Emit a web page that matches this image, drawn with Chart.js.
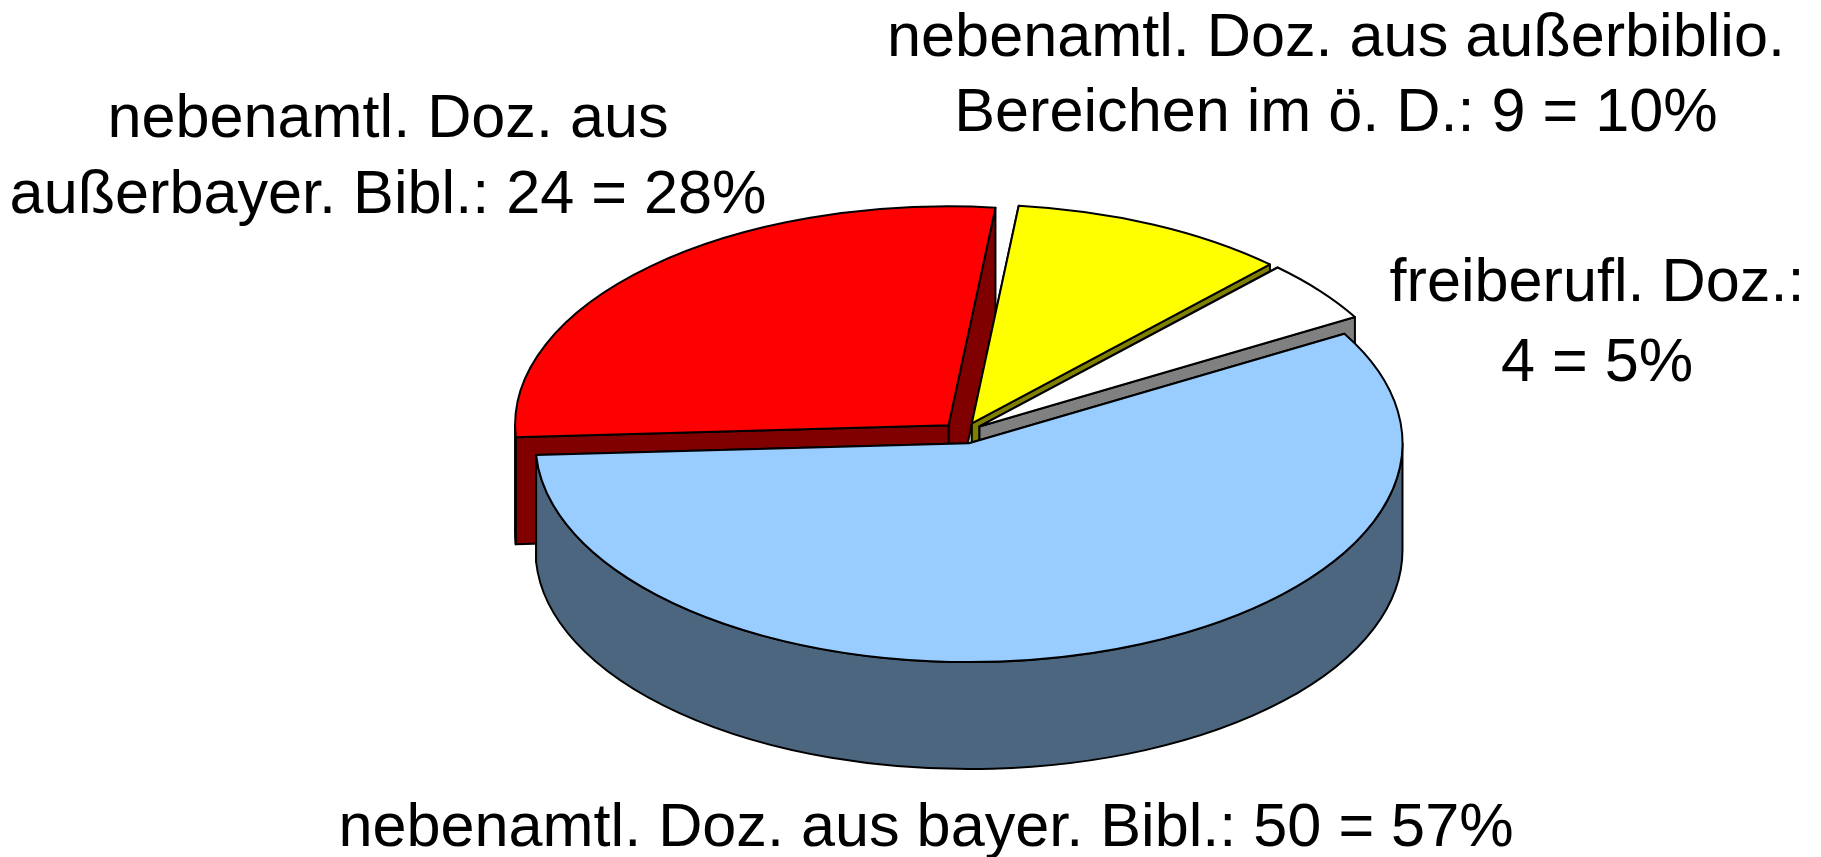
<!DOCTYPE html>
<html lang="de">
<head>
    <meta charset="UTF-8">
    <title>Dozenten</title>
    <script src="https://cdn.jsdelivr.net/npm/chart.js"></script>
    <style>
        html, body { margin: 0; background: #fff; }
        canvas { display: block; }
    </style>
</head>
<body>
    <canvas id="pie" width="1821" height="857"></canvas>

    <script>
        // Order is back to front, so the slices paint over each other correctly
        const categories = ['außerbayer. Bibl.', 'außerbiblio. Bereiche', 'freiberufl.', 'bayer. Bibl.'];
        const values = [24, 9, 4, 50];
        const topColors = ['#ff0000', '#ffff00', '#ffffff', '#99ccff'];
        const sideColors = ['#800000', '#808000', '#808080', '#4d6680'];
        const labelLines = [
            ['nebenamtl. Doz. aus', 'außerbayer. Bibl.: 24 = 28%'],
            ['nebenamtl. Doz. aus außerbiblio.', 'Bereichen im ö. D.: 9 = 10%'],
            ['freiberufl. Doz.:', '4 = 5%'],
            ['nebenamtl. Doz. aus bayer. Bibl.: 50 = 57%']
        ];
        const labelCenters = [
            [388, [120, 196]],
            [1336, [39, 114]],
            [1597, [284, 364]],
            [926, [829]]
        ];

        const squash = 0.505;  // tilt of the pie
        const depth = 107;     // wall height in page pixels
        const explode = 21;    // how far slices are pulled out

        // Front-facing part of the rim for a slice, canvas angles
        function frontRanges(a0, a1) {
            const ranges = [];
            for (let n = -1; n <= 1; n++) {
                const s = Math.max(a0, n * 2 * Math.PI);
                const e = Math.min(a1, n * 2 * Math.PI + Math.PI);
                if (e > s) ranges.push([s, e]);
            }
            return ranges;
        }

        // Stroke the current path without the squash, so lines keep an even width
        function strokeFlat(ctx) {
            ctx.save();
            ctx.setTransform(1, 0, 0, 1, 0, 0);
            ctx.strokeStyle = '#000';
            ctx.lineWidth = 2;
            ctx.lineJoin = 'round';
            ctx.stroke();
            ctx.restore();
        }

        function drawWalls(ctx, arc, color) {
            const { x, y, startAngle, endAngle, outerRadius: r } = arc.getProps(['x', 'y', 'startAngle', 'endAngle', 'outerRadius'], true);
            const d = depth / squash;
            ctx.fillStyle = color;

            // the wall whose rim end sits higher goes first
            [startAngle, endAngle].sort((a, b) => Math.sin(a) - Math.sin(b)).forEach(a => {
                const ex = x + Math.cos(a) * r;
                const ey = y + Math.sin(a) * r;
                ctx.beginPath();
                ctx.moveTo(x, y);
                ctx.lineTo(ex, ey);
                ctx.lineTo(ex, ey + d);
                ctx.lineTo(x, y + d);
                ctx.closePath();
                ctx.fill();
                strokeFlat(ctx);
            });

            frontRanges(startAngle, endAngle).forEach(([s, e]) => {
                ctx.beginPath();
                ctx.arc(x, y, r, s, e);
                ctx.lineTo(x + Math.cos(e) * r, y + Math.sin(e) * r + d);
                ctx.arc(x, y + d, r, e, s, true);
                ctx.closePath();
                ctx.fill();
                strokeFlat(ctx);
            });
        }

        const pie3d = {
            id: 'pie3d',
            beforeDatasetDraw(chart, args) {
                const ctx = chart.ctx;
                const arcs = args.meta.data;
                const cy = arcs[0].y;
                ctx.save();
                ctx.translate(0, cy);
                ctx.scale(1, squash);
                ctx.translate(0, -cy);
                arcs.forEach((arc, i) => {
                    const { startAngle, endAngle } = arc.getProps(['startAngle', 'endAngle'], true);
                    const mid = (startAngle + endAngle) / 2;
                    ctx.save();
                    ctx.translate(Math.cos(mid) * explode, Math.sin(mid) * explode);
                    drawWalls(ctx, arc, sideColors[i]);
                    arc.draw(ctx);
                    strokeFlat(ctx);    // arc.draw leaves its path behind
                    ctx.restore();
                });
                ctx.restore();
                return false;
            },
            afterDraw(chart) {
                const ctx = chart.ctx;
                ctx.save();
                ctx.fillStyle = '#000';
                ctx.font = '61.2px "Liberation Sans"';
                ctx.textAlign = 'center';
                ctx.textBaseline = 'middle';
                labelLines.forEach((lines, i) => {
                    const [cx, ys] = labelCenters[i];
                    lines.forEach((line, j) => ctx.fillText(line, cx, ys[j]));
                });
                ctx.restore();
            }
        };

        new Chart(document.getElementById('pie'), {
            type: 'pie',
            data: {
                labels: categories,
                datasets: [{
                    data: values,
                    backgroundColor: topColors,
                    borderWidth: 0
                }]
            },
            options: {
                responsive: false,
                animation: false,
                rotation: 266.9,
                radius: 433.5,
                layout: { padding: { left: 105, top: 9 } },
                plugins: {
                    legend: { display: false },
                    tooltip: { enabled: false }
                }
            },
            plugins: [pie3d]
        });
    </script>
</body>
</html>
